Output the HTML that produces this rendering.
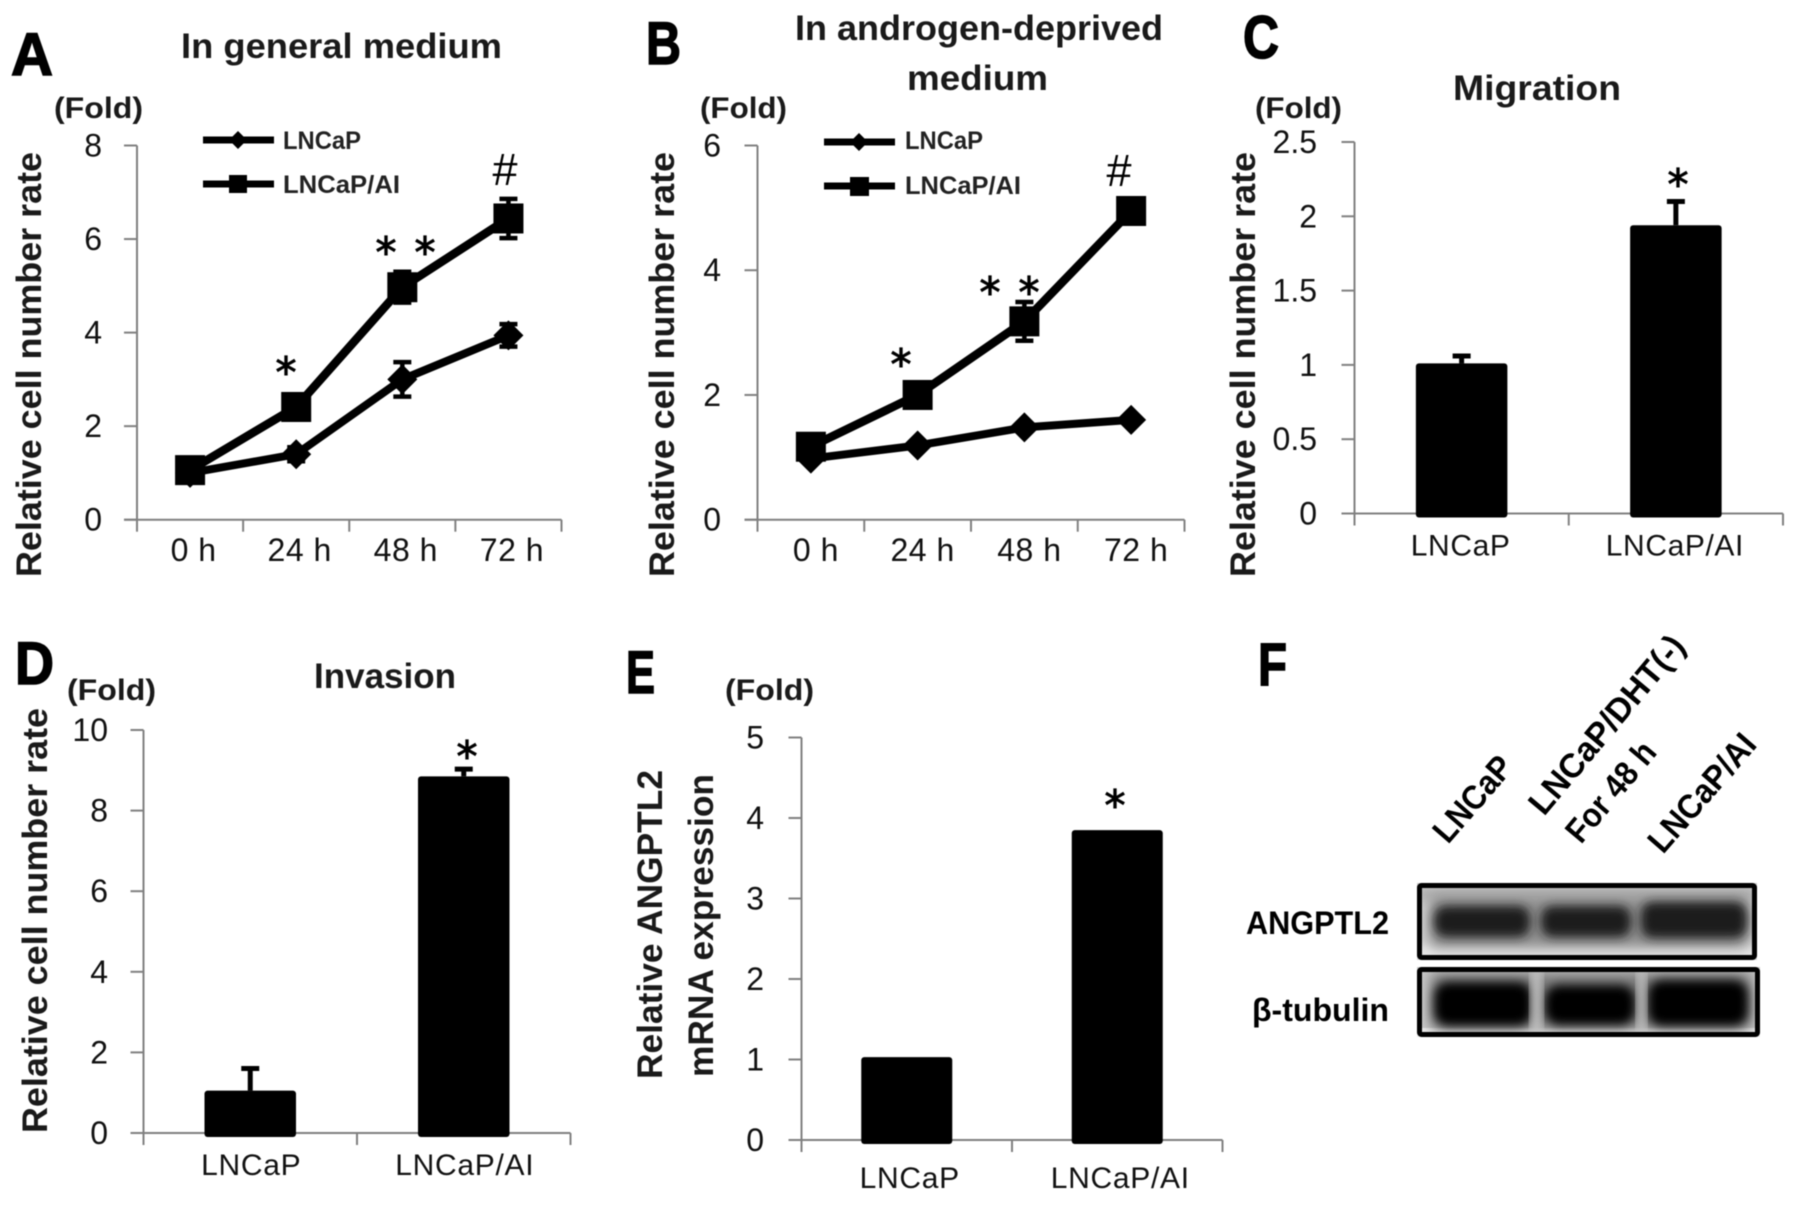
<!DOCTYPE html>
<html lang="en">
<head>
<meta charset="utf-8">
<title>LNCaP and LNCaP/AI cell comparison figure</title>
<style>
html,body{margin:0;padding:0;background:#fff;}
#figure{display:block;position:absolute;left:0;top:0;filter:blur(0.5px);}
text{font-family:"Liberation Sans",sans-serif;fill:#111;}
.b{font-weight:bold;}
.letter{font-weight:bold;font-size:60px;fill:#000;stroke:#000;stroke-width:1.5px;}
.title{font-weight:bold;font-size:35px;fill:#1a1a1a;}
.fold{font-weight:bold;font-size:30px;fill:#1a1a1a;}
.ytitle{font-weight:bold;font-size:35px;fill:#1a1a1a;}
.leg{font-weight:bold;font-size:25px;fill:#222;}
.star{font-family:"DejaVu Sans",sans-serif;font-size:42px;fill:#000;stroke:#000;stroke-width:1px;text-anchor:middle;}
.hash{font-family:"Liberation Sans",sans-serif;font-size:45px;fill:#000;text-anchor:middle;}
.flab{font-weight:bold;font-size:34px;fill:#000;}
</style>
</head>
<body>
<svg id="figure" xmlns="http://www.w3.org/2000/svg" width="1795" height="1206" viewBox="0 0 1795 1206">
<defs>
<filter id="blur-band" x="-20%" y="-60%" width="140%" height="220%"><feGaussianBlur stdDeviation="5"/></filter>
<filter id="blur-soft" x="-20%" y="-60%" width="140%" height="220%"><feGaussianBlur stdDeviation="7"/></filter>
<clipPath id="clip-blot-1"><rect x="1417" y="883" width="340" height="77"/></clipPath>
<clipPath id="clip-blot-2"><rect x="1417" y="967" width="343" height="70"/></clipPath>
</defs>
<rect width="1795" height="1206" fill="#fff"/>

<g id="panel-a">
<text class="letter" x="11" y="75" textLength="42" lengthAdjust="spacingAndGlyphs">A</text>
<text class="title" x="181" y="58" textLength="321" lengthAdjust="spacingAndGlyphs">In general medium</text>
<text class="fold" x="54" y="118" textLength="89" lengthAdjust="spacingAndGlyphs">(Fold)</text>
<text class="ytitle" transform="translate(41,577) rotate(-90)" textLength="425" lengthAdjust="spacingAndGlyphs">Relative cell number rate</text>
<g>
<line x1="203" y1="140" x2="274" y2="140" stroke="#000" stroke-width="7"/>
<path d="M238 131l9 9-9 9-9-9z"/>
<text class="leg" x="283" y="149" textLength="78" lengthAdjust="spacingAndGlyphs">LNCaP</text>
<line x1="203" y1="184" x2="274" y2="184" stroke="#000" stroke-width="7"/>
<rect x="229" y="175" width="18" height="18"/>
<text class="leg" x="283" y="193" textLength="117" lengthAdjust="spacingAndGlyphs">LNCaP/AI</text>
</g>
<text class="star" x="286" y="387">*</text>
<text class="star" x="386" y="267">*</text>
<text class="star" x="425" y="267">*</text>
<text class="hash" x="505" y="185">#</text>
</g>

<g id="panel-b">
<text class="letter" x="646" y="64" textLength="35" lengthAdjust="spacingAndGlyphs">B</text>
<text class="title" x="795" y="40" textLength="368" lengthAdjust="spacingAndGlyphs">In androgen-deprived</text>
<text class="title" x="907" y="90" textLength="141" lengthAdjust="spacingAndGlyphs">medium</text>
<text class="fold" x="700" y="118" textLength="87" lengthAdjust="spacingAndGlyphs">(Fold)</text>
<text class="ytitle" transform="translate(674,577) rotate(-90)" textLength="425" lengthAdjust="spacingAndGlyphs">Relative cell number rate</text>
<g>
<line x1="824" y1="142" x2="895" y2="142" stroke="#000" stroke-width="7"/>
<path d="M859 133l9 9-9 9-9-9z"/>
<text class="leg" x="905" y="149" textLength="78" lengthAdjust="spacingAndGlyphs">LNCaP</text>
<line x1="824" y1="186" x2="895" y2="186" stroke="#000" stroke-width="7"/>
<rect x="850" y="177" width="19" height="19"/>
<text class="leg" x="905" y="194" textLength="116" lengthAdjust="spacingAndGlyphs">LNCaP/AI</text>
</g>
<text class="star" x="901" y="379">*</text>
<text class="star" x="990" y="307">*</text>
<text class="star" x="1029" y="307">*</text>
<text class="hash" x="1119" y="186">#</text>
</g>

<g id="panel-c">
<text class="letter" x="1243" y="58" textLength="36" lengthAdjust="spacingAndGlyphs">C</text>
<text class="title" x="1453" y="100" textLength="168" lengthAdjust="spacingAndGlyphs">Migration</text>
<text class="fold" x="1255" y="118" textLength="87" lengthAdjust="spacingAndGlyphs">(Fold)</text>
<text class="ytitle" transform="translate(1255,577) rotate(-90)" textLength="425" lengthAdjust="spacingAndGlyphs">Relative cell number rate</text>
<text class="star" x="1678" y="199">*</text>
</g>

<g id="panel-d">
<text class="letter" x="15" y="684" textLength="39" lengthAdjust="spacingAndGlyphs">D</text>
<text class="title" x="314" y="688" textLength="142" lengthAdjust="spacingAndGlyphs">Invasion</text>
<text class="fold" x="67" y="700" textLength="89" lengthAdjust="spacingAndGlyphs">(Fold)</text>
<text class="ytitle" transform="translate(47,1133) rotate(-90)" textLength="425" lengthAdjust="spacingAndGlyphs">Relative cell number rate</text>
<text class="star" x="467" y="771">*</text>
</g>

<g id="panel-e">
<text class="letter" x="626" y="693" textLength="29" lengthAdjust="spacingAndGlyphs">E</text>
<text class="fold" x="725" y="700" textLength="89" lengthAdjust="spacingAndGlyphs">(Fold)</text>
<text class="ytitle" transform="translate(662,1079) rotate(-90)" textLength="309" lengthAdjust="spacingAndGlyphs">Relative ANGPTL2</text>
<text class="ytitle" transform="translate(713,1077) rotate(-90)" textLength="303" lengthAdjust="spacingAndGlyphs">mRNA expression</text>
<text class="star" x="1115" y="820">*</text>
</g>

<g id="panel-f">
<text class="letter" x="1258" y="685" textLength="29" lengthAdjust="spacingAndGlyphs">F</text>
<text class="flab" transform="translate(1448,845) rotate(-49)" textLength="102" lengthAdjust="spacingAndGlyphs">LNCaP</text>
<text class="flab" transform="translate(1544,817) rotate(-50)" textLength="222" lengthAdjust="spacingAndGlyphs">LNCaP/DHT(-)</text>
<text class="flab" transform="translate(1581,845) rotate(-50)" textLength="120" lengthAdjust="spacingAndGlyphs">For 48 h</text>
<text class="flab" transform="translate(1663,855) rotate(-49)" textLength="145" lengthAdjust="spacingAndGlyphs">LNCaP/AI</text>
<text class="flab" style="font-size:32px" x="1246" y="934" textLength="143" lengthAdjust="spacingAndGlyphs">ANGPTL2</text>
<text class="flab" style="font-size:32px;font-family:'Liberation Sans','DejaVu Sans',sans-serif" x="1252" y="1021" textLength="137" lengthAdjust="spacingAndGlyphs">β-tubulin</text>

<g>
<g clip-path="url(#clip-blot-1)">
<rect x="1417" y="883" width="340" height="77" fill="#cfcfcf"/>
<rect x="1417" y="945" width="340" height="15" fill="#eeeeee" filter="url(#blur-band)"/>
<rect x="1417" y="888" width="340" height="12" fill="#b0b0b0" filter="url(#blur-band)"/>
<rect x="1430" y="896" width="318" height="52" fill="#8c8c8c" filter="url(#blur-soft)"/>
<rect x="1434" y="906" width="96" height="31" rx="12" fill="#1e1e1e" filter="url(#blur-band)"/>
<rect x="1541" y="906" width="90" height="31" rx="12" fill="#1e1e1e" filter="url(#blur-band)"/>
<rect x="1641" y="902" width="106" height="36" rx="12" fill="#1a1a1a" filter="url(#blur-band)"/>
</g>
<rect x="1419.5" y="885.5" width="335" height="72" rx="2" fill="none" stroke="#000" stroke-width="5"/>
</g>

<g>
<g clip-path="url(#clip-blot-2)">
<rect x="1417" y="967" width="343" height="70" fill="#cccccc"/>
<rect x="1417" y="1028" width="343" height="9" fill="#f0f0f0"/>
<rect x="1430" y="972" width="322" height="58" fill="#7a7a7a" filter="url(#blur-soft)"/>
<rect x="1434" y="982" width="98" height="44" rx="14" fill="#000" filter="url(#blur-band)"/>
<rect x="1545" y="985" width="90" height="40" rx="14" fill="#000" filter="url(#blur-band)"/>
<rect x="1648" y="980" width="100" height="46" rx="14" fill="#000" filter="url(#blur-band)"/>
<rect x="1531" y="967" width="11" height="70" fill="#c4c4c4" filter="url(#blur-band)"/>
<rect x="1637" y="967" width="9" height="70" fill="#c4c4c4" filter="url(#blur-band)"/>
</g>
<rect x="1419.5" y="969.5" width="338" height="65" rx="2" fill="none" stroke="#000" stroke-width="5"/>
</g>
</g>
</svg>

<script>
// Panel A: in general medium
const timeLabels = ['0 h', '24 h', '48 h', '72 h'];
const panelATicks = [0, 2, 4, 6, 8];
const panelALncap = [1.0, 1.4, 3.0, 3.94];
const panelALncapErr = [0.05, 0.15, 0.37, 0.24];
const panelAAi = [1.06, 2.41, 4.97, 6.44];
const panelAAiErr = [0.05, 0.1, 0.33, 0.42];

// Panel B: in androgen-deprived medium
const panelBTicks = [0, 2, 4, 6];
const panelBLncap = [0.98, 1.19, 1.48, 1.6];
const panelBLncapErr = [0.03, 0.03, 0.05, 0.03];
const panelBAi = [1.17, 2.0, 3.18, 4.95];
const panelBAiErr = [0.04, 0.05, 0.31, 0.05];

// Bar panels
const barLabels = ['LNCaP', 'LNCaP/AI'];
const panelCTicks = ['0', '0.5', '1', '1.5', '2', '2.5'];
const panelCValues = [1.01, 1.94];
const panelCErr = [0.05, 0.16];
const panelDTicks = ['0', '2', '4', '6', '8', '10'];
const panelDValues = [1.05, 8.85];
const panelDErr = [0.55, 0.18];
const panelETicks = ['0', '1', '2', '3', '4', '5'];
const panelEValues = [1.03, 3.85];

const NS = 'http://www.w3.org/2000/svg';
const svgRoot = document.getElementById('figure');

function mk(tag, parent, attrs) {
  const el = document.createElementNS(NS, tag);
  for (const k in attrs) el.setAttribute(k, attrs[k]);
  parent.appendChild(el);
  return el;
}

function linearY(y0, yTop, max) {
  return function (v) { return y0 - (v / max) * (y0 - yTop); };
}

function bandX(x0, x1, n) {
  return function (i) { return x0 + (i + 0.5) * (x1 - x0) / n; };
}

function drawAxes(panel, box, ticks, labels, labelOpts) {
  const g = mk('g', panel, {});
  
  
  const y = linearY(box.y0, box.yTop, Number(ticks[ticks.length - 1]));
  const stroke = { stroke: '#808080', 'stroke-width': 2 };
  const yAxis = mk('line', g, Object.assign({ x1: box.x0, y1: box.yTop, x2: box.x0, y2: box.y0 }, stroke));
  
  
  const xAxis = mk('line', g, Object.assign({ x1: box.x0 - 13, y1: box.y0, x2: box.x1, y2: box.y0 }, stroke));
  
  
  ticks.forEach(function (t) {
    const py = y(Number(t));
    const tick = mk('line', g, Object.assign({ x1: box.x0 - 13, y1: py, x2: box.x0, y2: py }, stroke));
    
    
    const lab = mk('text', g, { x: box.labelRight, y: py + 11, 'text-anchor': 'end', 'font-size': 32, fill: '#222' });
    lab.textContent = t;
    
    
  });
  const n = labels.length;
  for (let i = 0; i <= n; i++) {
    const px = box.x0 + i * (box.x1 - box.x0) / n;
    const tick = mk('line', g, Object.assign({ x1: px, y1: box.y0, x2: px, y2: box.y0 + 12 }, stroke));
    
    
  }
  const x = bandX(box.x0, box.x1, n);
  labels.forEach(function (t, i) {
    const lab = mk('text', g, {
      x: x(i) + labelOpts.dx, y: box.labelY, 'text-anchor': 'middle',
      'font-size': labelOpts.size, 'letter-spacing': labelOpts.spacing, fill: '#222'
    });
    lab.textContent = t;
    
    
  });
  return { x: x, y: y };
}

function drawErr(g, px, yv, yLow, yHigh) {
  const stem = mk('line', g, { x1: px, y1: yLow, x2: px, y2: yHigh, stroke: '#000', 'stroke-width': 4.5 });
  
  
  [yLow, yHigh].forEach(function (cy) {
    const cap = mk('line', g, { x1: px - 9, y1: cy, x2: px + 9, y2: cy, stroke: '#000', 'stroke-width': 4.5 });
    
    
  });
}

function drawSeries(panel, scale, values, errs, kind, seriesName) {
  const g = mk('g', panel, {});
  
  
  const pts = values.map(function (v, i) { return scale.x(i) + ',' + scale.y(v); }).join(' ');
  const line = mk('polyline', g, { points: pts, fill: 'none', stroke: '#000', 'stroke-width': kind === 'square' ? 8.5 : 8, 'stroke-linejoin': 'round' });
  
  
  values.forEach(function (v, i) {
    const px = scale.x(i), py = scale.y(v);
    drawErr(g, px, py, scale.y(v - errs[i]), scale.y(v + errs[i]));
    if (kind === 'square') {
      const m = mk('rect', g, { x: px - 15, y: py - 15, width: 30, height: 30, fill: '#000' });
      
      
    } else {
      const d = 15;
      const m = mk('polygon', g, { points: [px, py - d, px + d, py, px, py + d, px - d, py].join(' '), fill: '#000' });
      
      
    }
  });
}

function drawBars(panel, scale, y0, barWidth, values, errs) {
  values.forEach(function (v, i) {
    const px = scale.x(i), py = scale.y(v);
    if (errs) {
      const hi = scale.y(v + errs[i]);
      const stem = mk('line', panel, { x1: px, y1: py, x2: px, y2: hi, stroke: '#000', 'stroke-width': 5 });
      
      
      const cap = mk('line', panel, { x1: px - 9, y1: hi, x2: px + 9, y2: hi, stroke: '#000', 'stroke-width': 5 });
      
      
    }
    const bar = mk('rect', panel, { x: px - barWidth / 2, y: py, width: barWidth, height: y0 + 4 - py, rx: 3, fill: '#000' });
    
    
  });
}

const panelA = document.getElementById('panel-a');
const scaleA = drawAxes(panelA, { x0: 137, x1: 561.5, y0: 519.7, yTop: 145.5, labelRight: 102, labelY: 561 }, panelATicks, timeLabels, { size: 32, spacing: 0.5, dx: 3.5 });
drawSeries(panelA, scaleA, panelALncap, panelALncapErr, 'diamond', 'lncap');
drawSeries(panelA, scaleA, panelAAi, panelAAiErr, 'square', 'lncap-ai');

const panelB = document.getElementById('panel-b');
const scaleB = drawAxes(panelB, { x0: 757.5, x1: 1184.5, y0: 519.7, yTop: 145.5, labelRight: 721, labelY: 561 }, panelBTicks, timeLabels, { size: 32, spacing: 0.5, dx: 5 });
drawSeries(panelB, scaleB, panelBLncap, panelBLncapErr, 'diamond', 'lncap');
drawSeries(panelB, scaleB, panelBAi, panelBAiErr, 'square', 'lncap-ai');

const panelC = document.getElementById('panel-c');
const scaleC = drawAxes(panelC, { x0: 1354.5, x1: 1783, y0: 513.5, yTop: 142, labelRight: 1317, labelY: 555.5 }, panelCTicks, barLabels, { size: 30, spacing: 0.6, dx: -1 });
drawBars(panelC, scaleC, 513.5, 91.5, panelCValues, panelCErr);

const panelD = document.getElementById('panel-d');
const scaleD = drawAxes(panelD, { x0: 143.5, x1: 570.5, y0: 1133, yTop: 730, labelRight: 108, labelY: 1175 }, panelDTicks, barLabels, { size: 30, spacing: 0.7, dx: 1 });
drawBars(panelD, scaleD, 1133, 91.5, panelDValues, panelDErr);

const panelE = document.getElementById('panel-e');
const scaleE = drawAxes(panelE, { x0: 801.5, x1: 1222.5, y0: 1140, yTop: 737.5, labelRight: 764, labelY: 1188 }, panelETicks, barLabels, { size: 30, spacing: 0.7, dx: 3 });
drawBars(panelE, scaleE, 1140, 91, panelEValues, null);
</script>
</body>
</html>
